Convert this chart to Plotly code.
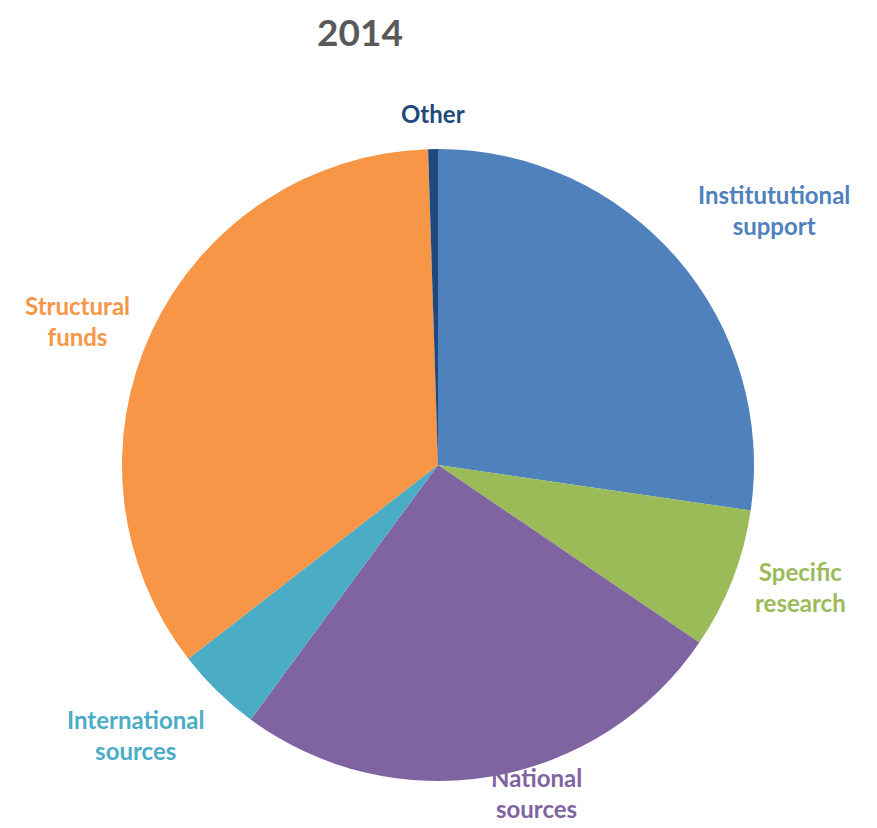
import math
import plotly.graph_objects as go

labels = ["Institututional<br>support", "Specific<br>research", "National<br>sources",
          "International<br>sources", "Structural<br>funds", "Other"]
values = [27.3, 7.2, 25.6, 4.4, 35.0, 0.5]
colors = ["#4F81BD", "#9BBB59", "#8064A2", "#4BACC6", "#F79646", "#1F497D"]
title_text = "2014"

# style: radial distance of each label anchor, as a fraction of the radius
label_dist = [1.08, 1.07, 0.95, 1.05, 1.07, 1.06]

W, H = 877, 828
SHIFT = 8  # page body margin
cx, cy, r = 438 - SHIFT, 465 - SHIFT, 316

fig = go.Figure(go.Pie(
    labels=labels,
    values=values,
    sort=False,
    direction="clockwise",
    rotation=0,
    marker=dict(colors=colors, line=dict(width=0)),
    textinfo="none",
    showlegend=False,
    hoverinfo="label+percent",
    domain=dict(x=[(cx - r) / W, (cx + r) / W], y=[(H - cy - r) / H, (H - cy + r) / H]),
    automargin=False,
))

total = sum(values)
cum = 0.0
for lab, v, col, f in zip(labels, values, colors, label_dist):
    mid = (cum + v / 2) / total * 2 * math.pi
    cum += v
    s, c = math.sin(mid), math.cos(mid)
    px = cx + f * r * s
    py = cy - f * r * c
    xa = "left" if s > 0.15 else ("right" if s < -0.15 else "center")
    ya = "bottom" if c > 0.5 else ("top" if c < -0.5 else "middle")
    fig.add_annotation(
        text=lab, x=px / W, y=1 - py / H, xref="paper", yref="paper",
        xanchor=xa, yanchor=ya, showarrow=False, align="center",
        font=dict(family="Lato", size=24, color=col, weight="bold"),
    )

fig.add_annotation(
    text=title_text, x=(360 - SHIFT) / W, y=1, xref="paper", yref="paper",
    xanchor="center", yanchor="top", showarrow=False, borderpad=0,
    font=dict(family="Lato", size=37, color="#595959", weight="bold"),
)

fig.update_layout(
    width=W, height=H,
    margin=dict(l=0, r=0, t=0, b=0),
    paper_bgcolor="white", plot_bgcolor="white",
)

fig.write_html("out.html")
